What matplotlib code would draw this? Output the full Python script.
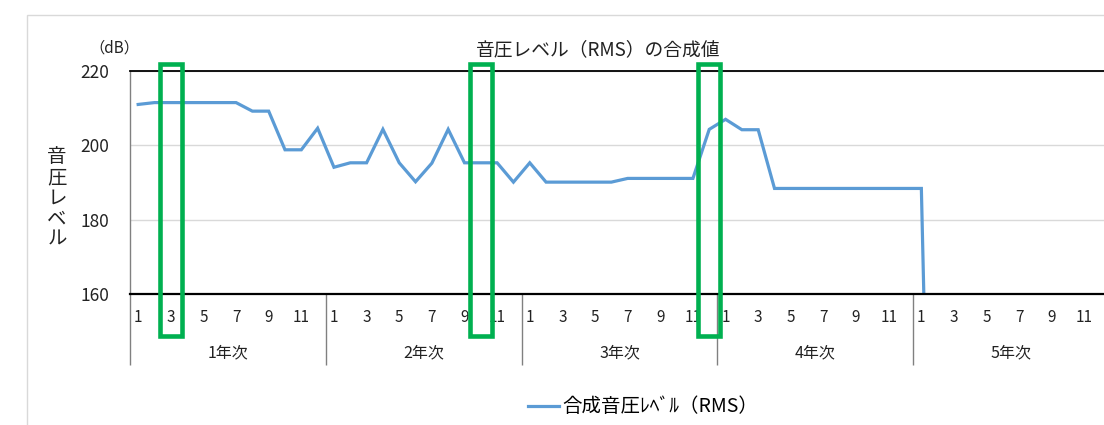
import numpy as np
import matplotlib
matplotlib.use("Agg")
import matplotlib.pyplot as plt
from matplotlib.patches import Rectangle
import matplotlib.transforms as mtransforms

plt.rcParams['font.family'] = ['Noto Sans CJK JP', 'DejaVu Sans']

# monthly values (dB), 5 years x 12 months
year1 = [211.0, 211.5, 211.5, 211.5, 211.5, 211.5, 211.5, 209.2, 209.2, 198.8, 198.8, 204.6]
year2 = [194.1, 195.3, 195.3, 204.3, 195.3, 190.2, 195.2, 204.3, 195.3, 195.3, 195.3, 190.1]
year3 = [195.3, 190.1, 190.1, 190.1, 190.1, 190.1, 191.1, 191.1, 191.1, 191.1, 191.1, 204.3]
year4 = [207.0, 204.2, 204.2, 188.4, 188.4, 188.4, 188.4, 188.4, 188.4, 188.4, 188.4, 188.4]
year5 = [188.4, 0, 0, 0, 0, 0, 0, 0, 0, 0, 0, 0]
years = ['1年次', '2年次', '3年次', '4年次', '5年次']
month_labels = ['1', '3', '5', '7', '9', '11']
highlight = [2, 21, 35]  # months boxed in green

values = np.array(year1 + year2 + year3 + year4 + year5)
x = np.arange(len(values))

W, H = 1104, 425
fig = plt.figure(figsize=(W / 100, H / 100), dpi=100)
ax = fig.add_axes([130 / W, 1 - 294 / H, 979 / W, 223 / H])

ax.plot(x, values, color='#5B9BD5', lw=2.3, label='合成音圧ﾚﾍﾞﾙ（RMS）', solid_joinstyle='miter')
ax.set_xlim(-0.5, len(values) - 0.5)
ax.set_ylim(160, 220)
ax.set_yticks([160, 180, 200, 220])
ax.tick_params(axis='y', length=0, pad=15, labelsize=12.5, labelcolor='#222222')
ax.yaxis.grid(True, color='#D9D9D9', lw=1)
ax.set_axisbelow(True)

# category axis: odd months + year groups
odd = [12 * y + m for y in range(5) for m in range(0, 12, 2)]
ax.set_xticks(odd)
ax.set_xticklabels(month_labels * 5)
ax.tick_params(axis='x', which='major', length=0, pad=11, labelsize=11, labelcolor='#222222')
ax.set_xticks(np.arange(-0.5, len(values), 12), minor=True)
ax.tick_params(axis='x', which='minor', length=51, width=1, color='#808080')

blend = mtransforms.blended_transform_factory(ax.transData, ax.transAxes)
for i, yl in enumerate(years):
    ax.text(12 * i + 5.5, -0.265, yl, transform=blend, ha='center', va='center',
            fontsize=11.5, color='#222222')

ax.spines['right'].set_visible(False)
ax.spines['top'].set_color('black')
ax.spines['top'].set_linewidth(1.3)
ax.spines['bottom'].set_color('black')
ax.spines['bottom'].set_linewidth(1.6)
ax.spines['left'].set_color('#808080')
ax.spines['left'].set_linewidth(1)

# green highlight boxes
for h in highlight:
    ax.add_patch(Rectangle((h - 0.66, -0.19), 1.32, 1.22, transform=blend,
                           fill=False, edgecolor='#00B050', lw=3.3, clip_on=False, zorder=5))

ax.text(-0.016, 1.103, '（dB）', transform=ax.transAxes, ha='center', va='center',
        fontsize=11, color='#222222')
ax.text(-73 / 979, 0.43, '音\n圧\nレ\nベ\nル', transform=ax.transAxes,
        ha='center', va='center', fontsize=14, linespacing=0.98, color='#222222')

fig.text(598 / W, 1 - 50 / H, '音圧レベル（RMS）の合成値', ha='center', va='center',
         fontsize=13.5, color='#222222')

fig.legend(loc='center', bbox_to_anchor=(643 / W, 1 - 407 / H), frameon=False,
           fontsize=14, handlelength=1.6, handletextpad=0.2)

# chart area border
fig.patches.append(Rectangle((27 / W, -0.1), 1.2, 1 - 15 / H + 0.1, transform=fig.transFigure,
                             fill=False, edgecolor='#D9D9D9', lw=1))

fig.savefig('out.png', dpi=100)
